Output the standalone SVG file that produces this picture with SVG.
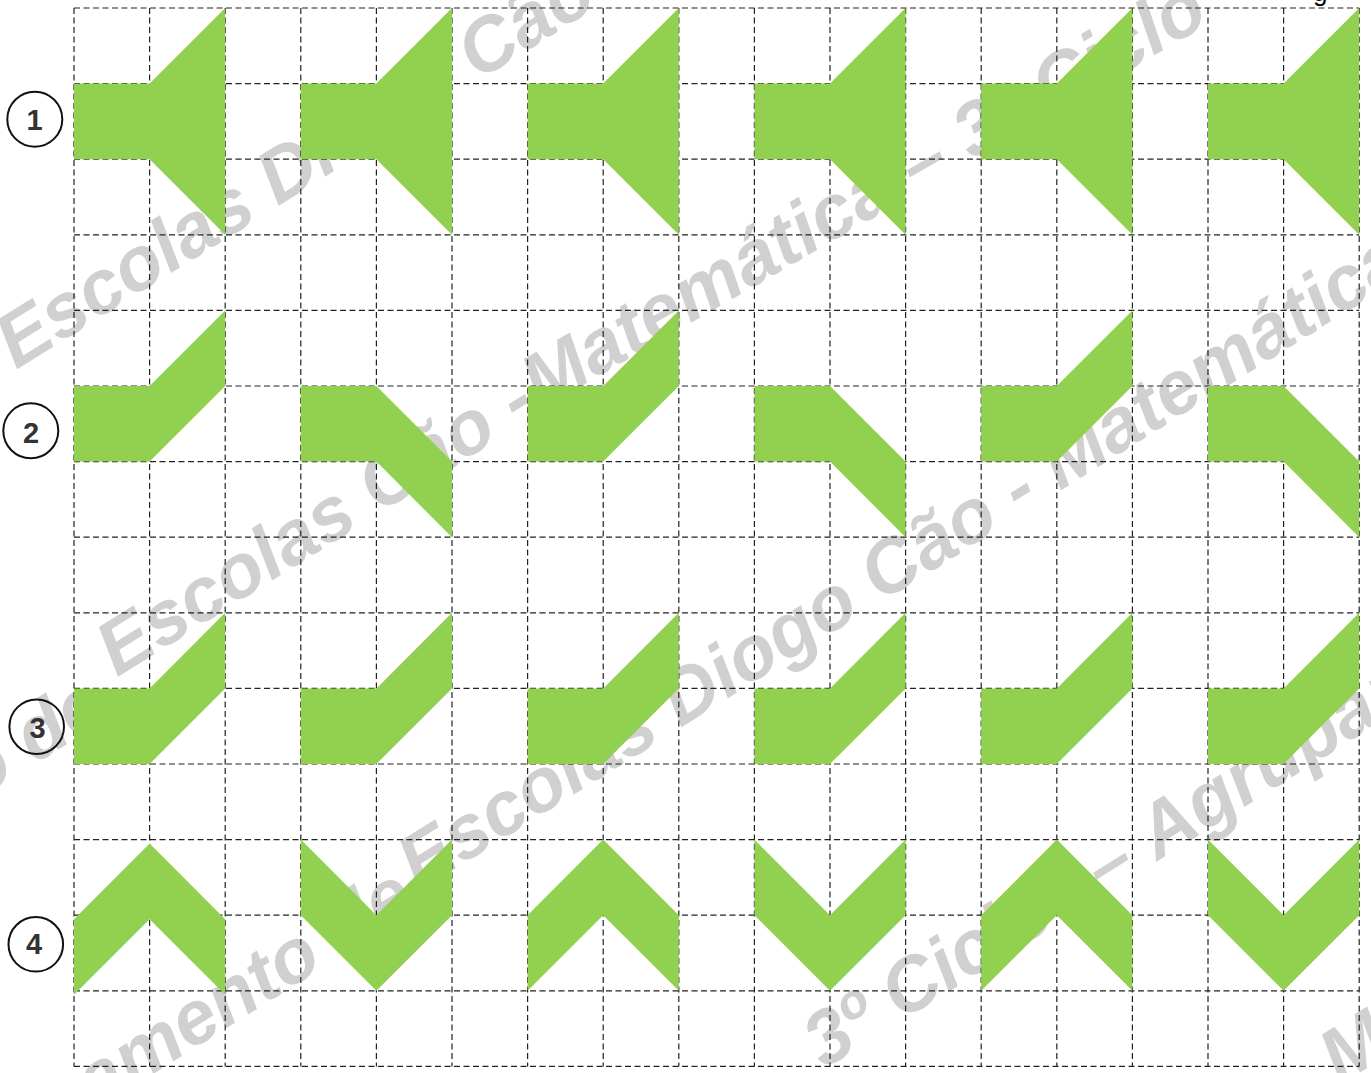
<svg xmlns="http://www.w3.org/2000/svg" xmlns:xlink="http://www.w3.org/1999/xlink" width="1371" height="1073" viewBox="0 0 1371 1073">
<style>
.wm{font-family:"Liberation Sans",Arial,sans-serif;font-weight:bold;font-style:italic;font-size:76px;fill:#d0d0d0}
.grid line{stroke:#222;stroke-width:1.2;stroke-dasharray:6 3.5}
.g{fill:#92D050}
.lbl circle{fill:none;stroke:#111;stroke-width:2}
.lbl text{font-family:"Liberation Sans",Arial,sans-serif;font-weight:bold;font-size:29px;fill:#333;text-anchor:middle}
</style>
<defs>
<polygon id="funnel" points="0,75.6 75.6,75.6 151.2,0 151.2,226.8 75.6,151.2 0,151.2"/>
<polygon id="up" points="0,75.6 75.6,75.6 151.2,0 151.2,75.6 75.6,151.2 0,151.2"/>
<polygon id="down" points="0,75.6 75.6,75.6 151.2,151.2 151.2,226.8 75.6,151.2 0,151.2"/>
<polygon id="chevup" points="0,75.6 75.6,0 151.2,75.6 151.2,151.2 75.6,75.6 0,151.2"/>
<polygon id="chevdown" points="0,0 75.6,75.6 151.2,0 151.2,75.6 75.6,151.2 0,75.6"/>
</defs>
<rect width="1371" height="1073" fill="#fff"/>
<g id="watermark">
<text class="wm" transform="translate(16,370) rotate(-32)">Escolas Diogo Cão - Matemática</text>
<text class="wm" transform="translate(127.8,706.1) rotate(-32)" x="-21" text-anchor="end">Agrupamento de</text>
<text class="wm" transform="translate(117,677.5) rotate(-32)">Escolas Cão -</text>
<text class="wm" transform="translate(540,410) rotate(-30)">Matemática – 3º Ciclo</text>
<text class="wm" transform="translate(426,903.4) rotate(-32)" x="-9" text-anchor="end">Agrupamento de</text>
<text class="wm" transform="translate(418.6,891.5) rotate(-32)">Escolas Diogo Cão - Matemática</text>
<text class="wm" transform="translate(824,1069.6) rotate(-32)">3º Ciclo</text>
<text class="wm" transform="translate(824,1069.6) rotate(-32)" x="330">–</text>
<text class="wm" transform="translate(824,1069.6) rotate(-32)" x="393">Agrupamento</text>
<text class="wm" transform="translate(1340,1085) rotate(-32)">Matemática</text>
</g>
<text x="1313" y="1" font-family="Liberation Sans, Arial, sans-serif" font-size="26" fill="#000">g</text>
<g id="grid" class="grid">
<line x1="74" y1="8" x2="74" y2="1066.4"/><line x1="149.6" y1="8" x2="149.6" y2="1066.4"/><line x1="225.2" y1="8" x2="225.2" y2="1066.4"/><line x1="300.8" y1="8" x2="300.8" y2="1066.4"/><line x1="376.4" y1="8" x2="376.4" y2="1066.4"/><line x1="452" y1="8" x2="452" y2="1066.4"/><line x1="527.6" y1="8" x2="527.6" y2="1066.4"/><line x1="603.2" y1="8" x2="603.2" y2="1066.4"/><line x1="678.8" y1="8" x2="678.8" y2="1066.4"/><line x1="754.4" y1="8" x2="754.4" y2="1066.4"/><line x1="830" y1="8" x2="830" y2="1066.4"/><line x1="905.6" y1="8" x2="905.6" y2="1066.4"/><line x1="981.2" y1="8" x2="981.2" y2="1066.4"/><line x1="1056.8" y1="8" x2="1056.8" y2="1066.4"/><line x1="1132.4" y1="8" x2="1132.4" y2="1066.4"/><line x1="1208" y1="8" x2="1208" y2="1066.4"/><line x1="1283.6" y1="8" x2="1283.6" y2="1066.4"/><line x1="1359.2" y1="8" x2="1359.2" y2="1066.4"/>
<line x1="74" y1="8" x2="1359.2" y2="8"/><line x1="74" y1="83.6" x2="1359.2" y2="83.6"/><line x1="74" y1="159.2" x2="1359.2" y2="159.2"/><line x1="74" y1="234.8" x2="1359.2" y2="234.8"/><line x1="74" y1="310.4" x2="1359.2" y2="310.4"/><line x1="74" y1="386" x2="1359.2" y2="386"/><line x1="74" y1="461.6" x2="1359.2" y2="461.6"/><line x1="74" y1="537.2" x2="1359.2" y2="537.2"/><line x1="74" y1="612.8" x2="1359.2" y2="612.8"/><line x1="74" y1="688.4" x2="1359.2" y2="688.4"/><line x1="74" y1="764" x2="1359.2" y2="764"/><line x1="74" y1="839.6" x2="1359.2" y2="839.6"/><line x1="74" y1="915.2" x2="1359.2" y2="915.2"/><line x1="74" y1="990.8" x2="1359.2" y2="990.8"/><line x1="74" y1="1066.4" x2="1359.2" y2="1066.4"/>
</g>
<g id="row1" class="g">
<use xlink:href="#funnel" x="74" y="8"/><use xlink:href="#funnel" x="300.8" y="8"/><use xlink:href="#funnel" x="527.6" y="8"/><use xlink:href="#funnel" x="754.4" y="8"/><use xlink:href="#funnel" x="981.2" y="8"/><use xlink:href="#funnel" x="1208" y="8"/>
</g>
<g id="row2" class="g">
<use xlink:href="#up" x="74" y="310.4"/><use xlink:href="#down" x="300.8" y="310.4"/><use xlink:href="#up" x="527.6" y="310.4"/><use xlink:href="#down" x="754.4" y="310.4"/><use xlink:href="#up" x="981.2" y="310.4"/><use xlink:href="#down" x="1208" y="310.4"/>
</g>
<g id="row3" class="g">
<use xlink:href="#up" x="74" y="612.8"/><use xlink:href="#up" x="300.8" y="612.8"/><use xlink:href="#up" x="527.6" y="612.8"/><use xlink:href="#up" x="754.4" y="612.8"/><use xlink:href="#up" x="981.2" y="612.8"/><use xlink:href="#up" x="1208" y="612.8"/>
</g>
<g id="row4" class="g">
<use xlink:href="#chevup" x="74" y="843.6"/><use xlink:href="#chevdown" x="300.8" y="839.6"/><use xlink:href="#chevup" x="527.6" y="839.6"/><use xlink:href="#chevdown" x="754.4" y="839.6"/><use xlink:href="#chevup" x="981.2" y="839.6"/><use xlink:href="#chevdown" x="1208" y="839.6"/>
</g>
<g id="label1" class="lbl"><circle cx="34.8" cy="119.2" r="27.5"/><text x="34.5" y="129.5">1</text></g>
<g id="label2" class="lbl"><circle cx="30.8" cy="430.8" r="27.5"/><text x="31" y="442.5">2</text></g>
<g id="label3" class="lbl"><circle cx="36.7" cy="726.7" r="27.3"/><text x="37.5" y="738">3</text></g>
<g id="label4" class="lbl"><circle cx="35.8" cy="944.3" r="27.3"/><text x="34" y="954">4</text></g>
</svg>
